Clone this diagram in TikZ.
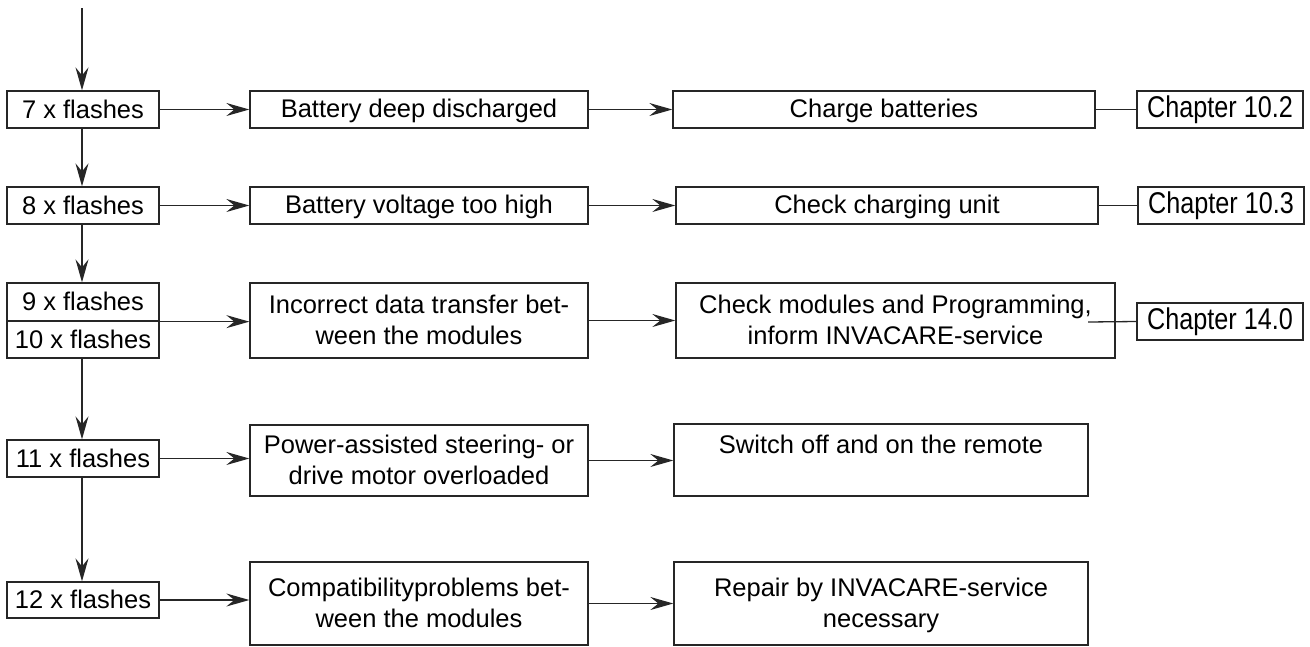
\documentclass[tikz,border=0pt]{standalone}
\usepackage{fontspec}
\setmainfont{Liberation Sans}
\newfontfamily\narrowfont[FakeStretch=0.84]{Liberation Sans}
\usetikzlibrary{arrows.meta}
\newcommand\mystrut{\rule[-5pt]{0pt}{27pt}}
\begin{document}
\begin{tikzpicture}[x=1pt,y=-1pt,
  box/.style={draw=black!85, line width=1.3pt, inner sep=0pt, align=center,
    font=\fontsize{25.5}{31}\selectfont},
  chap/.style={box, font=\narrowfont\fontsize{30}{34}\selectfont},
  conn/.style={line width=1.3pt, draw=black!85, -{Stealth[length=23pt,width=13pt,inset=8pt]}},
  plain/.style={line width=1.3pt, draw=black!85}]
\useasboundingbox (0,0) rectangle (1310,646);
% left column
\node[box, minimum width=152, minimum height=37] (f7) at (83,109.5) {\mystrut 7 x flashes};
\node[box, minimum width=152, minimum height=37] (f8) at (83,205.5) {\mystrut 8 x flashes};
\node[box, minimum width=152, minimum height=38] (f9) at (83,302) {\mystrut 9 x flashes};
\node[box, minimum width=152, minimum height=37] (f10) at (83,339.5) {\mystrut 10 x flashes};
\node[box, minimum width=152, minimum height=37] (f11) at (83,458.5) {\mystrut 11 x flashes};
\node[box, minimum width=152, minimum height=36] (f12) at (83,600) {\mystrut 12 x flashes};
% middle column
\node[box, minimum width=338, minimum height=37] (m7) at (419,109.5) {\mystrut Battery deep discharged};
\node[box, minimum width=338, minimum height=37] (m8) at (419,205.5) {\mystrut Battery voltage too high};
\node[box, minimum width=338, minimum height=75] (m9) at (419,320.5) {\mystrut Incorrect data transfer bet-\\\mystrut ween the modules};
\node[box, minimum width=338, minimum height=71] (m11) at (419,460.5) {\mystrut Power-assisted steering- or\\\mystrut drive motor overloaded};
\node[box, minimum width=338, minimum height=83] (m12) at (419,603.5) {\mystrut Compatibilityproblems bet-\\\mystrut ween the modules};
% right column
\node[box, minimum width=422, minimum height=37] (r7) at (884,109.5) {\mystrut Charge batteries};
\node[box, minimum width=422, minimum height=37] (r8) at (887,205.5) {\mystrut Check charging unit};
\node[box, minimum width=439, minimum height=75] (r9) at (895.5,320.5) {\mystrut Check modules and Programming,\\\mystrut inform INVACARE-service};
\node[box, minimum width=414, minimum height=72] (r11) at (881,460) {\mystrut Switch off and on the remote\\\mystrut};
\node[box, minimum width=414, minimum height=83] (r12) at (881,603.5) {\mystrut Repair by INVACARE-service\\\mystrut necessary};
% chapters
\node[chap, minimum width=166, minimum height=37] (c7) at (1220,109.5) {\mystrut Chapter 10.2};
\node[chap, minimum width=166, minimum height=37] (c8) at (1221,205.5) {\mystrut Chapter 10.3};
\node[chap, minimum width=166, minimum height=37] (c9) at (1220,321.5) {\mystrut Chapter 14.0};
% connectors
\coordinate (top) at (82,8);
\coordinate (r9out) at (1088,322);
\draw[conn] (top) -- (f7.north -| top);
\draw[conn] (f7.south -| top) -- (f8.north -| top);
\draw[conn] (f8.south -| top) -- (f9.north -| top);
\draw[conn] (f10.south -| top) -- (f11.north -| top);
\draw[conn] (f11.south -| top) -- (f12.north -| top);
\draw[conn] (f7.east) -- (f7.east -| m7.west);
\draw[conn] (f8.east) -- (f8.east -| m8.west);
\draw[conn] (f9.south east) -- (f9.south east -| m9.west);
\draw[conn] (f11.east) -- (f11.east -| m11.west);
\draw[conn] (f12.east) -- (f12.east -| m12.west);
\draw[conn] (m7.east) -- (m7.east -| r7.west);
\draw[conn] (m8.east) -- (m8.east -| r8.west);
\draw[conn] (m9.east) -- (m9.east -| r9.west);
\draw[conn] (m11.east) -- (m11.east -| r11.west);
\draw[conn] (m12.east) -- (m12.east -| r12.west);
\draw[plain] (r7.east) -- (c7.west);
\draw[plain] (r8.east) -- (c8.west);
\draw[plain] (r9out) -- (c9.west);
\end{tikzpicture}
\end{document}
